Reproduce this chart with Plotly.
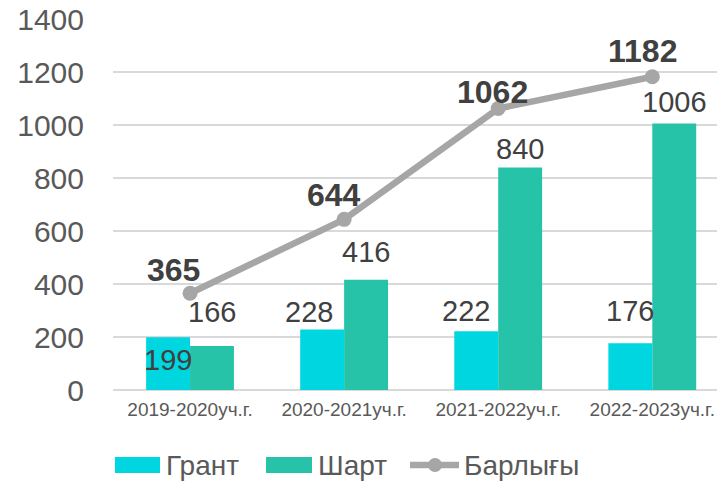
import plotly.graph_objects as go

categories = ["2019-2020уч.г.", "2020-2021уч.г.", "2021-2022уч.г.", "2022-2023уч.г."]
grant = [199, 228, 222, 176]
shart = [166, 416, 840, 1006]
total = [365, 644, 1062, 1182]
y_ticks = [0, 200, 400, 600, 800, 1000, 1200, 1400]
series_names = ["Грант", "Шарт", "Барлығы"]

C_GRANT = "#00D6E0"
C_SHART = "#27C3A8"
C_LINE = "#A6A6A6"
C_LABEL = "#404040"
C_AXIS = "#595959"
FONT = "Liberation Sans, Arial, sans-serif"

# plot area in pixels (for legend placement helpers)
L, T, W, H = 113, 19, 717, 483
B = 93
PW, PH = W - L, H - T - B


def px(xp):
    return (xp - L) / PW


def py(yp):
    return (H - B - yp) / PH


fig = go.Figure()
fig.add_trace(go.Bar(name=series_names[0], x=categories, y=grant,
                     marker=dict(color=C_GRANT, line=dict(width=0))))
fig.add_trace(go.Bar(name=series_names[1], x=categories, y=shart,
                     marker=dict(color=C_SHART, line=dict(width=0))))
fig.add_trace(go.Scatter(name=series_names[2], x=categories, y=total, mode="lines+markers",
                         line=dict(color=C_LINE, width=6.5), marker=dict(color=C_LINE, size=15)))

# data labels (offsets in pixels)
g_shift = [(0, -23), (-13, 18), (-10, 20), (0, 32)]
for c, v, (dx, dy) in zip(categories, grant, g_shift):
    fig.add_annotation(x=c, y=v, text=str(v), showarrow=False, xshift=-22 + dx, yshift=dy,
                       font=dict(family=FONT, size=29, color=C_LABEL))
s_shift = [(0, 34), (0, 28), (0, 18), (0, 21)]
for c, v, (dx, dy) in zip(categories, shart, s_shift):
    fig.add_annotation(x=c, y=v, text=str(v), showarrow=False, xshift=22 + dx, yshift=dy,
                       font=dict(family=FONT, size=29, color=C_LABEL))
t_shift = [(-17, 23), (-10, 24), (-6, 17), (-10, 26)]
for c, v, (dx, dy) in zip(categories, total, t_shift):
    fig.add_annotation(x=c, y=v, text="<b>%d</b>" % v, showarrow=False, xshift=dx, yshift=dy,
                       font=dict(family=FONT, size=32, color=C_LABEL))

# custom legend (bigger swatches like the original)
ly = 465
fig.add_shape(type="rect", xref="paper", yref="paper", x0=px(115), x1=px(160), y0=py(473), y1=py(457),
              fillcolor=C_GRANT, line=dict(width=0))
fig.add_annotation(xref="paper", yref="paper", x=px(164), y=py(ly), text=series_names[0], showarrow=False,
                   xanchor="left", yanchor="middle", font=dict(family=FONT, size=28, color=C_AXIS))
fig.add_shape(type="rect", xref="paper", yref="paper", x0=px(266), x1=px(312), y0=py(473), y1=py(457),
              fillcolor=C_SHART, line=dict(width=0))
fig.add_annotation(xref="paper", yref="paper", x=px(316), y=py(ly), text=series_names[1], showarrow=False,
                   xanchor="left", yanchor="middle", font=dict(family=FONT, size=28, color=C_AXIS))
fig.add_shape(type="line", xref="paper", yref="paper", x0=px(410), x1=px(459), y0=py(ly), y1=py(ly),
              line=dict(color=C_LINE, width=6.5))
fig.add_shape(type="circle", xref="paper", yref="paper", x0=px(428), x1=px(442), y0=py(472), y1=py(458),
              fillcolor=C_LINE, line=dict(width=0))
fig.add_annotation(xref="paper", yref="paper", x=px(462), y=py(ly), text=series_names[2], showarrow=False,
                   xanchor="left", yanchor="middle", font=dict(family=FONT, size=28, color=C_AXIS))

fig.update_layout(
    width=W, height=H,
    margin=dict(l=L, r=0, t=T, b=B, autoexpand=False),
    paper_bgcolor="white", plot_bgcolor="white",
    barmode="group", bargap=0.43, bargroupgap=0,
    font=dict(family=FONT, color=C_AXIS),
    showlegend=False,
)
fig.update_xaxes(range=[-0.5, 3.42], showgrid=False, showline=False, zeroline=False,
                 tickfont=dict(size=19, color=C_AXIS), ticks="", ticklabelstandoff=6)
fig.update_yaxes(range=[0, 1400], tickvals=y_ticks, showgrid=True, gridcolor="#D9D9D9", gridwidth=1.5,
                 zeroline=True, zerolinecolor="#D9D9D9", zerolinewidth=1.5, showline=False,
                 tickfont=dict(size=30, color=C_AXIS), ticks="", ticklabelstandoff=28)

fig.write_html("out.html", config={"displayModeBar": False},
               post_script="document.body.style.margin='0';document.body.style.overflow='hidden';")
